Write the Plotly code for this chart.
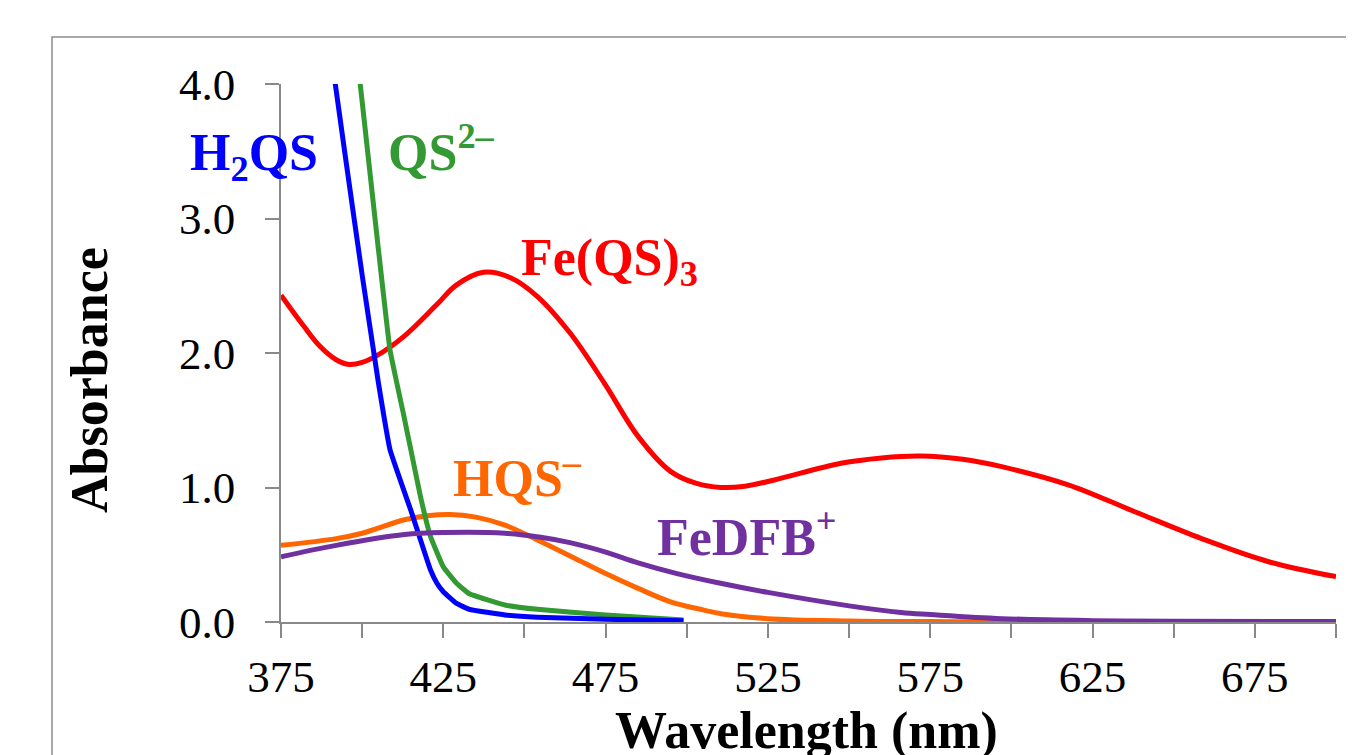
import plotly.graph_objects as go

# ---------------- data ----------------
wl_h2qs = [390, 395, 400, 405, 408.6, 415, 421, 423, 425, 429, 433, 444, 454, 475, 499]
abs_h2qs = [4.3, 3.43, 2.58, 1.78, 1.28, 0.83, 0.39, 0.29, 0.225, 0.14, 0.094, 0.052, 0.035, 0.02, 0.01]

wl_qs = [398, 400, 404, 408.6, 412.7, 415, 418, 421, 425, 429, 433, 444, 454, 475, 499]
abs_qs = [4.3, 3.87, 2.99, 2.02, 1.55, 1.28, 0.93, 0.64, 0.41, 0.29, 0.21, 0.126, 0.094, 0.052, 0.015]

wl_feqs = [375, 382, 387, 392, 396, 400, 404.5, 412.7, 423, 429, 437.4, 445.7, 454, 464, 474.5,
           485, 495, 503, 510.5, 518, 527, 547.5, 560, 572, 585, 597, 617.5, 638, 658.6, 679, 700]
abs_feqs = [2.43, 2.2, 2.05, 1.95, 1.915, 1.93, 1.98, 2.12, 2.36, 2.505, 2.60, 2.56, 2.42, 2.15, 1.78,
            1.38, 1.12, 1.03, 1.0, 1.01, 1.056, 1.18, 1.22, 1.234, 1.21, 1.155, 1.02, 0.82, 0.62, 0.45, 0.337]

wl_hqs = [375, 392, 400, 413, 420, 427, 435, 444, 454, 465, 475, 485, 495, 505, 511, 525, 550, 575, 600, 700]
abs_hqs = [0.57, 0.62, 0.66, 0.76, 0.79, 0.80, 0.78, 0.72, 0.61, 0.48, 0.36, 0.25, 0.15, 0.09, 0.06, 0.025, 0.008, 0.003, 0.0, 0.0]

wl_fedfb = [375, 392, 413, 425, 444, 455, 464, 475, 485, 497, 510, 525, 550, 566, 575, 597, 625, 650, 700]
abs_fedfb = [0.485, 0.57, 0.65, 0.665, 0.66, 0.63, 0.59, 0.52, 0.44, 0.36, 0.29, 0.22, 0.12, 0.07, 0.055, 0.025, 0.01, 0.005, 0.003]

x_tickvals = [375, 400, 425, 450, 475, 500, 525, 550, 575, 600, 625, 650, 675, 700]
x_ticktext = ["375", "", "425", "", "475", "", "525", "", "575", "", "625", "", "675", ""]
y_tickvals = [0, 1, 2, 3, 4]
y_ticktext = ["0.0", "1.0", "2.0", "3.0", "4.0"]

# ---------------- styles ----------------
C_BLUE = "#0000FF"
C_GREEN = "#339933"
C_RED = "#FF0000"
C_ORANGE = "#FF6600"
C_PURPLE = "#7030A0"
FONT = "Liberation Serif, Times New Roman, serif"
AX = "#898989"
LW = 5

fig = go.Figure()
fig.add_trace(go.Scatter(x=wl_hqs, y=abs_hqs, mode="lines", line=dict(color=C_ORANGE, width=LW, shape="spline", smoothing=1.0)))
fig.add_trace(go.Scatter(x=wl_feqs, y=abs_feqs, mode="lines", line=dict(color=C_RED, width=LW, shape="spline", smoothing=1.0)))
fig.add_trace(go.Scatter(x=wl_qs, y=abs_qs, mode="lines", line=dict(color=C_GREEN, width=LW, shape="spline", smoothing=0.3)))
fig.add_trace(go.Scatter(x=wl_h2qs, y=abs_h2qs, mode="lines", line=dict(color=C_BLUE, width=LW, shape="spline", smoothing=0.3)))
fig.add_trace(go.Scatter(x=wl_fedfb, y=abs_fedfb, mode="lines", line=dict(color=C_PURPLE, width=LW, shape="spline", smoothing=1.0)))

# page body has an 8px margin; figure sized so the plot area lands at screen 281..1336 x 84..622
OFF = 8
W, H = 1354 - OFF, 755 - OFF
L, R, T, B = 281, 1336, 84, 622  # screen coordinates of the plot area


def px(xs):
    return (xs - L) / (R - L)


def py(ys):
    return (B - ys) / (B - T)


labels = [
    ("<b>H<sub>2</sub>QS</b>", 188, 156, C_BLUE),
    ("<b>QS<sup>2–</sup></b>", 386, 148, C_GREEN),
    ("<b>Fe(QS)<sub>3</sub></b>", 519, 262, C_RED),
    ("<b>HQS<sup>–</sup></b>", 451, 474, C_ORANGE),
    ("<b>FeDFB<sup>+</sup></b>", 655, 533, C_PURPLE),
]
annotations = []
for txt, xl, yc, col in labels:
    annotations.append(dict(text=txt, xref="paper", yref="paper", x=px(xl), y=py(yc),
                            xanchor="left", yanchor="middle", showarrow=False,
                            font=dict(family=FONT, size=52, color=col)))
# axis titles (placed explicitly to match the reference positions)
annotations.append(dict(text="<b>Absorbance</b>", xref="paper", yref="paper", x=px(89), y=py(380),
                        xanchor="center", yanchor="middle", textangle=-90, showarrow=False,
                        font=dict(family=FONT, size=52, color="black")))
annotations.append(dict(text="<b>Wavelength (nm)</b>", xref="paper", yref="paper", x=px(806), y=py(731),
                        xanchor="center", yanchor="middle", showarrow=False,
                        font=dict(family=FONT, size=52, color="black")))

fig.update_layout(
    width=W, height=H,
    margin=dict(l=L - OFF, r=W - (R - OFF), t=T - OFF, b=H - (B - OFF), pad=0, autoexpand=False),
    paper_bgcolor="white", plot_bgcolor="white",
    showlegend=False,
    annotations=annotations,
    shapes=[dict(type="rect", xref="paper", yref="paper",
                 x0=px(52), y0=py(37), x1=1.3, y1=-0.6,
                 line=dict(color="#8c8c8c", width=1.5), fillcolor="rgba(0,0,0,0)", layer="below")],
    xaxis=dict(range=[375, 700], tickvals=x_tickvals, ticktext=x_ticktext, automargin=False,
               showgrid=False, zeroline=False, showline=True, linecolor=AX, linewidth=1.5,
               ticks="outside", ticklen=14, tickcolor=AX, tickwidth=1.5,
               tickfont=dict(family=FONT, size=45, color="black"), ticklabelstandoff=0),
    yaxis=dict(range=[0, 4], tickvals=y_tickvals, ticktext=y_ticktext, automargin=False,
               showgrid=False, zeroline=False, showline=True, linecolor=AX, linewidth=1.5,
               ticks="outside", ticklen=14, tickcolor=AX, tickwidth=1.5,
               tickfont=dict(family=FONT, size=45, color="black"), ticklabelstandoff=21),
)

fig.write_html("out.html")
